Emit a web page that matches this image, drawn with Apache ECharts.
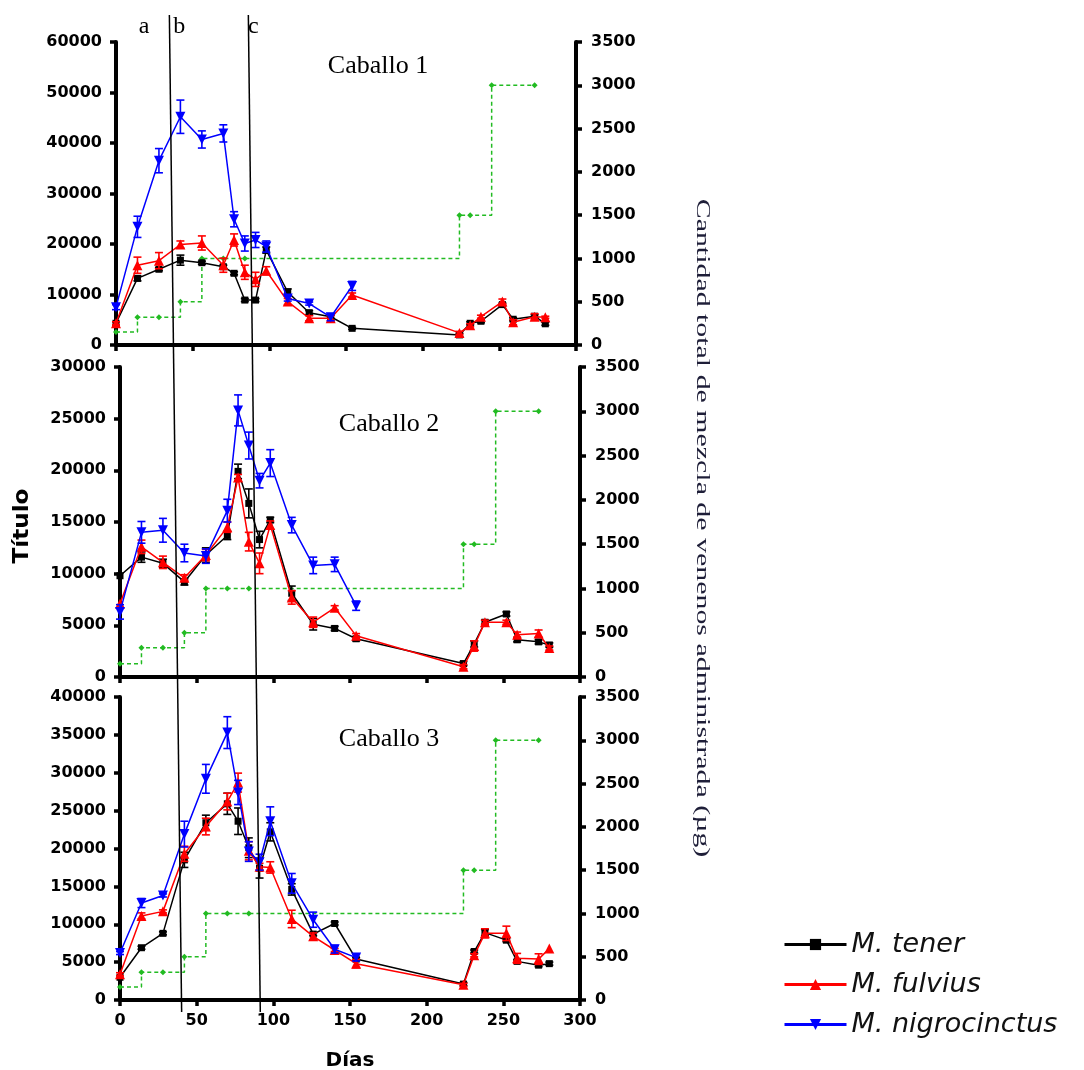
<!DOCTYPE html>
<html><head><meta charset="utf-8">
<script src="https://cdn.jsdelivr.net/npm/echarts@6/dist/echarts.min.js"></script>
<style>html,body{margin:0;padding:0;background:#fff;}#c{width:1084px;height:1070px;}</style>
</head><body><div id="c"></div>
<script>
// ---------- data ----------
const daysTiter = [0,14,28,42,56,70,77,84,91,98,112,126,140,154,224,231,238,252,259,273,280];
const daysNigro = [0,14,28,42,56,70,77,84,91,98,112,126,140,154];
const daysDose  = [0,14,28,42,56,70,84,224,231,245,273];
const seriesNames = ['M. tener','M. fulvius','M. nigrocinctus'];
const panelTitles = ['Caballo 1','Caballo 2','Caballo 3'];
const leftMax = [60000, 30000, 40000];
const leftInterval = [10000, 5000, 5000];
const rightMax = 3500, rightInterval = 500;

// Caballo 1
const h1Tener     = [4300,13200,15000,16800,16300,15500,14200,8900,8900,18800,10500,6400,5600,3300,2000,4300,4700,8000,5100,5700,4200];
const h1TenerErr  = [300,500,300,1000,300,300,300,300,300,600,600,400,300,200,300,300,300,300,300,300,300];
const h1Fulvius   = [4300,15800,16700,19900,20200,15800,20800,14400,13000,14700,8600,5300,5300,9900,2400,3900,5600,8600,4500,5600,5500];
const h1FulviusErr= [300,1600,1600,700,1400,1400,1200,1400,1400,800,600,500,500,400,300,300,300,500,500,600,200];
const h1Nigro     = [7500,23400,36500,45200,40700,41900,24900,20100,20800,19500,9200,8200,5500,11700];
const h1NigroErr  = [500,2100,2400,3300,1700,1700,1500,1500,1500,1100,500,300,700,900];
const h1Dose      = [150,320,320,500,1000,1000,1000,1500,1500,3000,3000];

// Caballo 2
const h2Tener     = [9800,11600,11000,9200,11800,13700,19900,16800,13300,15200,8100,5100,4700,3700,1300,3200,5300,6100,3600,3400,3100];
const h2TenerErr  = [0,500,400,300,700,400,700,1400,800,250,700,550,200,200,200,300,200,200,200,200,200];
const h2Fulvius   = [7100,12600,11100,9600,11800,14500,19300,13100,11000,14700,7700,5300,6700,4000,1000,3000,5300,5300,4100,4200,2800];
const h2FulviusErr= [0,650,600,300,550,500,300,900,1000,400,650,500,200,200,200,500,200,200,250,350,200];
const h2Nigro     = [6300,14000,14200,12000,11700,16100,25800,22400,19000,20700,14700,10800,10900,6900];
const h2NigroErr  = [700,1050,1150,850,700,1100,1500,1300,700,1300,750,800,700,450];
const h2Dose      = [150,330,330,500,1000,1000,1000,1500,1500,3000,3000];

// Caballo 3
const h3Tener     = [3000,6900,8800,18500,23400,25900,23600,20100,17400,22200,14600,8700,10100,5400,2100,6400,8900,7900,5100,4600,4800];
const h3TenerErr  = [0,200,200,1000,1000,1400,1750,1300,1300,1200,750,200,200,200,200,200,400,200,200,200,200];
const h3Fulvius   = [3400,11100,11700,19300,22900,26200,28700,19700,17600,17500,10700,8400,6600,4800,2000,5900,8800,8800,5500,5400,6800];
const h3FulviusErr= [200,400,200,1000,1100,1100,1250,1200,450,750,1150,450,200,550,200,200,600,950,650,700,0];
const h3Nigro     = [6200,12800,13800,21900,29200,35300,27400,19600,18200,23600,15400,10600,6700,5600];
const h3NigroErr  = [200,600,200,1700,1900,2100,1600,1300,1050,1900,1300,1000,500,450];
const h3Dose      = [150,320,320,500,1000,1000,1000,1500,1500,3000,3000];

// annotation lines (day on bottom x axis at top and bottom of the figure)
const annotLines = [{dayTop:32.2, dayBottom:40.2},{dayTop:83.7, dayBottom:91.5}];
const annotLabels = [{text:'a', day:15.7},{text:'b', day:38.6},{text:'c', day:87.0}];

// ---------- build ----------
const panels = [
  {tener:h1Tener, tenerErr:h1TenerErr, fulvius:h1Fulvius, fulviusErr:h1FulviusErr, nigro:h1Nigro, nigroErr:h1NigroErr, dose:h1Dose},
  {tener:h2Tener, tenerErr:h2TenerErr, fulvius:h2Fulvius, fulviusErr:h2FulviusErr, nigro:h2Nigro, nigroErr:h2NigroErr, dose:h2Dose},
  {tener:h3Tener, tenerErr:h3TenerErr, fulvius:h3Fulvius, fulviusErr:h3FulviusErr, nigro:h3Nigro, nigroErr:h3NigroErr, dose:h3Dose}
];
const grids = [
  {left:116, top:42, width:460, height:303},
  {left:120, top:367, width:460, height:310},
  {left:120, top:697, width:460, height:303}
];
const plain = v => String(v);
const tickFont = {fontFamily:'DejaVu Sans', fontWeight:'bold', fontSize:16, color:'#000', formatter:plain};
const axisLineStyle = {color:'#000', width:4};
const tickStyle = {show:true, length:6, lineStyle:{color:'#000', width:3.5}};

const xAxis = [], yAxis = [], series = [];
grids.forEach((g,i)=>{
  g.outerBoundsMode = 'none';
  const last = i === 2;
  xAxis.push({type:'value', gridIndex:i, min:0, max:300, interval:50,
    axisLine:{show:true, onZero:false, lineStyle:axisLineStyle},
    axisTick:tickStyle,
    axisLabel:{show:last, margin:13, ...tickFont},
    splitLine:{show:false},
    name: last ? 'Días' : '', nameLocation:'middle', nameGap:51,
    nameTextStyle:{fontFamily:'DejaVu Sans', fontWeight:'bold', fontSize:20, color:'#000'}
  });
  yAxis.push({type:'value', gridIndex:i, position:'left', min:0, max:leftMax[i], interval:leftInterval[i],
    axisLine:{show:true, onZero:false, lineStyle:axisLineStyle}, axisTick:tickStyle,
    axisLabel:{margin:14, ...tickFont}, splitLine:{show:false}});
  yAxis.push({type:'value', gridIndex:i, position:'right', min:0, max:rightMax, interval:rightInterval,
    axisLine:{show:true, onZero:false, lineStyle:axisLineStyle}, axisTick:tickStyle,
    axisLabel:{margin:15, ...tickFont}, splitLine:{show:false}});
});

function errRender(params, api){
  const x = api.value(0), lo = api.value(1), hi = api.value(2);
  const a = api.coord([x, lo]), b = api.coord([x, hi]);
  const w = 4;
  const st = {stroke: api.visual('color'), lineWidth: 1.6};
  return {type:'group', children:[
    {type:'line', shape:{x1:a[0], y1:a[1], x2:b[0], y2:b[1]}, style:st},
    {type:'line', shape:{x1:b[0]-w, y1:b[1], x2:b[0]+w, y2:b[1]}, style:st},
    {type:'line', shape:{x1:a[0]-w, y1:a[1], x2:a[0]+w, y2:a[1]}, style:st}
  ]};
}
function errData(days, vals, errs){
  const out = [];
  days.forEach((d,k)=>{ if (errs[k] > 0) out.push([d, vals[k]-errs[k], vals[k]+errs[k]]); });
  return out;
}
function zip(days, vals){ return days.map((d,k)=>[d, vals[k]]); }

const colors = {tener:'#000000', fulvius:'#ff0000', nigro:'#0000ff', dose:'#22bb22'};
panels.forEach((p,i)=>{
  series.push({type:'line', name:'dose'+i, xAxisIndex:i, yAxisIndex:2*i+1, data:zip(daysDose, p.dose),
    step:'end', symbol:'diamond', symbolSize:6, itemStyle:{color:colors.dose},
    lineStyle:{color:colors.dose, width:1.5, type:[4,3]}, z:2});
  const specs = [
    ['tener', seriesNames[0], daysTiter, 'rect', 7, 0],
    ['fulvius', seriesNames[1], daysTiter, 'triangle', 10, 0],
    ['nigro', seriesNames[2], daysNigro, 'triangle', 10, 180]
  ];
  specs.forEach(([key, name, days, sym, size, rot], j)=>{
    series.push({type:'custom', name:'err_'+key+i, xAxisIndex:i, yAxisIndex:2*i,
      data: errData(days, p[key], p[key+'Err']), renderItem: errRender,
      encode:{x:0, y:[1,2]}, itemStyle:{color:colors[key]}, z:3+j});
    series.push({type:'line', name:name, xAxisIndex:i, yAxisIndex:2*i, data:zip(days, p[key]),
      symbol:sym, symbolSize:size, symbolRotate:rot, showSymbol:true,
      itemStyle:{color:colors[key]}, lineStyle:{color:colors[key], width:1.5}, z:3+j});
  });
});

const option = {
  animation:false,
  backgroundColor:'#fff',
  grid:grids, xAxis, yAxis, series,
  legend:{data:seriesNames, orient:'vertical', left:778, top:926, itemWidth:62, itemHeight:14, itemGap:13,
    selectedMode:false, lineStyle:{width:3},
    textStyle:{fontFamily:'DejaVu Sans', fontStyle:'italic', fontSize:27, color:'#111'}}
};

const chart = echarts.init(document.getElementById('c'));
chart.setOption(option);

const graphic = [];
annotLines.forEach(a=>{
  const xt = chart.convertToPixel({xAxisIndex:2}, a.dayTop);
  const xb = chart.convertToPixel({xAxisIndex:2}, a.dayBottom);
  graphic.push({type:'line', shape:{x1:xt, y1:15, x2:xb, y2:1012}, style:{stroke:'#000', lineWidth:1.5}, z:100});
});
annotLabels.forEach(a=>{
  graphic.push({type:'text', x:chart.convertToPixel({xAxisIndex:2}, a.day), y:27,
    style:{text:a.text, fontFamily:'Liberation Serif', fontSize:24, fill:'#000', align:'center', verticalAlign:'middle'}, z:100});
});
const titlePos = [[378,66],[389,424],[389,739]];
panelTitles.forEach((t,i)=>{
  graphic.push({type:'text', x:titlePos[i][0], y:titlePos[i][1],
    style:{text:t, fontFamily:'Liberation Serif', fontSize:26, fill:'#000', align:'center', verticalAlign:'middle'}, z:100});
});
graphic.push({type:'text', x:23, y:526, rotation:Math.PI/2, scaleX:1.1,
  style:{text:'Título', fontFamily:'DejaVu Sans', fontWeight:'bold', fontSize:21, fill:'#000', align:'center', verticalAlign:'middle'}, z:100});
graphic.push({type:'text', x:702, y:528, rotation:-Math.PI/2, scaleX:1.66,
  style:{text:'Cantidad total de mezcla de venenos administrada (µg)', fontFamily:'Liberation Serif', fontSize:18, fill:'#1e1e38', align:'center', verticalAlign:'middle'}, z:100});
chart.setOption({graphic});
</script></body></html>
